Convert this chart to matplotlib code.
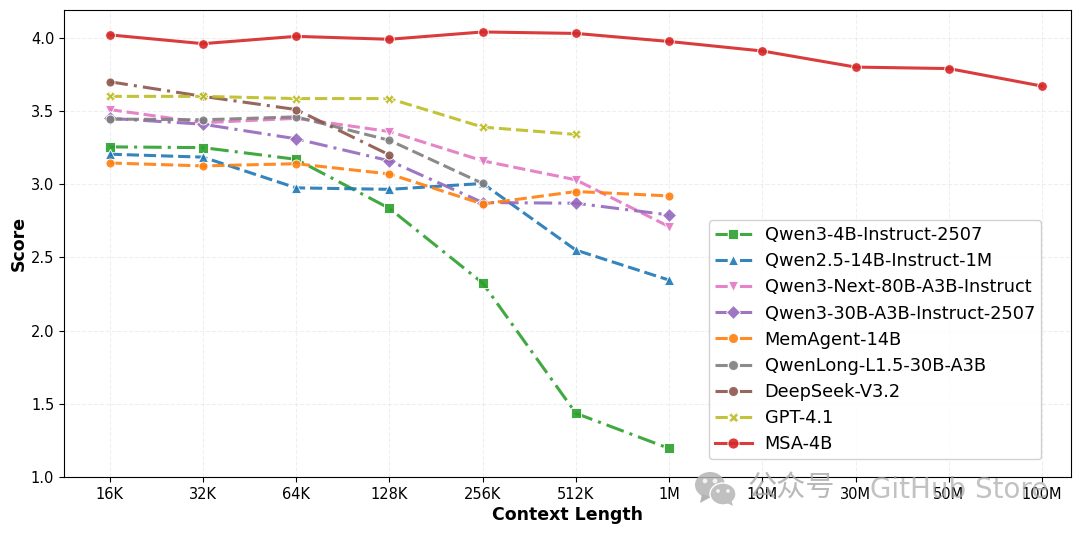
import matplotlib
matplotlib.use("Agg")
import matplotlib.pyplot as plt
from matplotlib.lines import Line2D
from matplotlib.patches import Ellipse, Polygon

context_labels = ["16K", "32K", "64K", "128K", "256K", "512K", "1M", "10M", "30M", "50M", "100M"]

qwen3_4b = [3.255, 3.25, 3.17, 2.835, 2.325, 1.435, 1.195]
qwen25_14b = [3.205, 3.185, 2.975, 2.965, 3.005, 2.55, 2.345]
qwen3_next = [3.51, 3.42, 3.45, 3.36, 3.16, 3.03, 2.71]
qwen3_30b = [3.45, 3.41, 3.31, 3.16, 2.875, 2.87, 2.79]
memagent = [3.145, 3.125, 3.14, 3.07, 2.865, 2.95, 2.92]
qwenlong = [3.445, 3.44, 3.46, 3.30, 3.005]
deepseek = [3.70, 3.60, 3.51, 3.20]
gpt41 = [3.60, 3.60, 3.585, 3.585, 3.39, 3.34]
msa_4b = [4.02, 3.96, 4.01, 3.99, 4.04, 4.03, 3.975, 3.91, 3.80, 3.79, 3.67]

dashed = (0, (4, 1.6))
dashdot = (0, (6, 2, 1, 2))

series = [
    ("Qwen3-4B-Instruct-2507", qwen3_4b, "#2ca02c", "s", dashdot, 6.5),
    ("Qwen2.5-14B-Instruct-1M", qwen25_14b, "#1f77b4", "^", dashed, 6.5),
    ("Qwen3-Next-80B-A3B-Instruct", qwen3_next, "#e377c2", "v", dashed, 6.5),
    ("Qwen3-30B-A3B-Instruct-2507", qwen3_30b, "#9467bd", "D", dashdot, 7.5),
    ("MemAgent-14B", memagent, "#ff7f0e", "o", dashed, 6.5),
    ("QwenLong-L1.5-30B-A3B", qwenlong, "#7f7f7f", "o", dashed, 6.5),
    ("DeepSeek-V3.2", deepseek, "#8c564b", "o", dashdot, 6.5),
    ("GPT-4.1", gpt41, "#bcbd22", "X", dashed, 6.5),
    ("MSA-4B", msa_4b, "#d62728", "o", "-", 7),
]

fig = plt.figure(figsize=(10.8, 5.33), dpi=100)
ax = fig.add_axes([64 / 1080, 1 - 477 / 533, (1071 - 64) / 1080, (477 - 10) / 533])

handles = []
for name, vals, color, marker, ls, ms in series:
    ax.plot(range(len(vals)), vals, color=color, marker=marker, linestyle=ls,
            linewidth=2.2, markersize=ms, markeredgecolor="white", markeredgewidth=0.7, alpha=0.9)
    # legend keys show one dash either side of the marker
    solid = ls == "-"
    handles.append(Line2D([], [], color=color, marker=marker, linestyle="-" if solid else (0, (4, 4)),
                          linewidth=2.2, markersize=8 if solid else 7.2, markeredgecolor="white",
                          markeredgewidth=0.7, alpha=0.9, label=name))

ax.set_xlim(-0.49, 10.31)
ax.set_ylim(1.0, 4.19)
ax.set_xticks(range(len(context_labels)))
ax.set_xticklabels(context_labels)
ax.set_yticks([1.0, 1.5, 2.0, 2.5, 3.0, 3.5, 4.0])
ax.tick_params(labelsize=10.5, width=0.8, length=3.5)
ax.grid(True, linestyle="--", alpha=0.2, linewidth=0.8)
ax.set_xlabel("Context Length", fontsize=12.5, fontweight="bold", labelpad=3)
ax.set_ylabel("Score", fontsize=12.5, fontweight="bold", labelpad=2)

ax.legend(handles=handles, loc="lower right", bbox_to_anchor=(0.9705, 0.038), fontsize=12.8,
          framealpha=0.9, borderpad=0.35, labelspacing=0.455, handlelength=2.05, handletextpad=0.73,
          borderaxespad=0)

# watermark
fig.text(748 / 1080, 1 - 489 / 533, "公众号", family=["Noto Sans CJK SC", "DejaVu Sans"], fontsize=21,
         color="#a8a8a8", alpha=0.8, va="center")
fig.text(870 / 1080, 1 - 490 / 533, "GitHub Store", family="DejaVu Sans", fontsize=20,
         color="#a8a8a8", alpha=0.7, va="center")
wm = fig.add_axes([0, 0, 1, 1], facecolor="none")
wm.set_xlim(0, 1080)
wm.set_ylim(533, 0)
wm.axis("off")
wm.add_patch(Ellipse((710, 485), 30, 26, color="#b4b4b4", alpha=0.85, lw=0))
wm.add_patch(Polygon([[702, 494], [700, 503], [711, 497]], color="#b4b4b4", lw=0))
wm.add_patch(Ellipse((723, 494), 26, 22, facecolor="#c0c0c0", edgecolor="white", lw=1))
wm.add_patch(Polygon([[727, 503], [733, 506], [731, 499]], color="#c0c0c0", lw=0))
for ex, ey, er in [(705, 481, 2.4), (715, 481, 2.4), (718, 491, 1.9), (728, 491, 1.9)]:
    wm.add_patch(Ellipse((ex, ey), er * 2, er * 2, color="#f2f2f2", lw=0))

fig.savefig("out.png", dpi=100)
